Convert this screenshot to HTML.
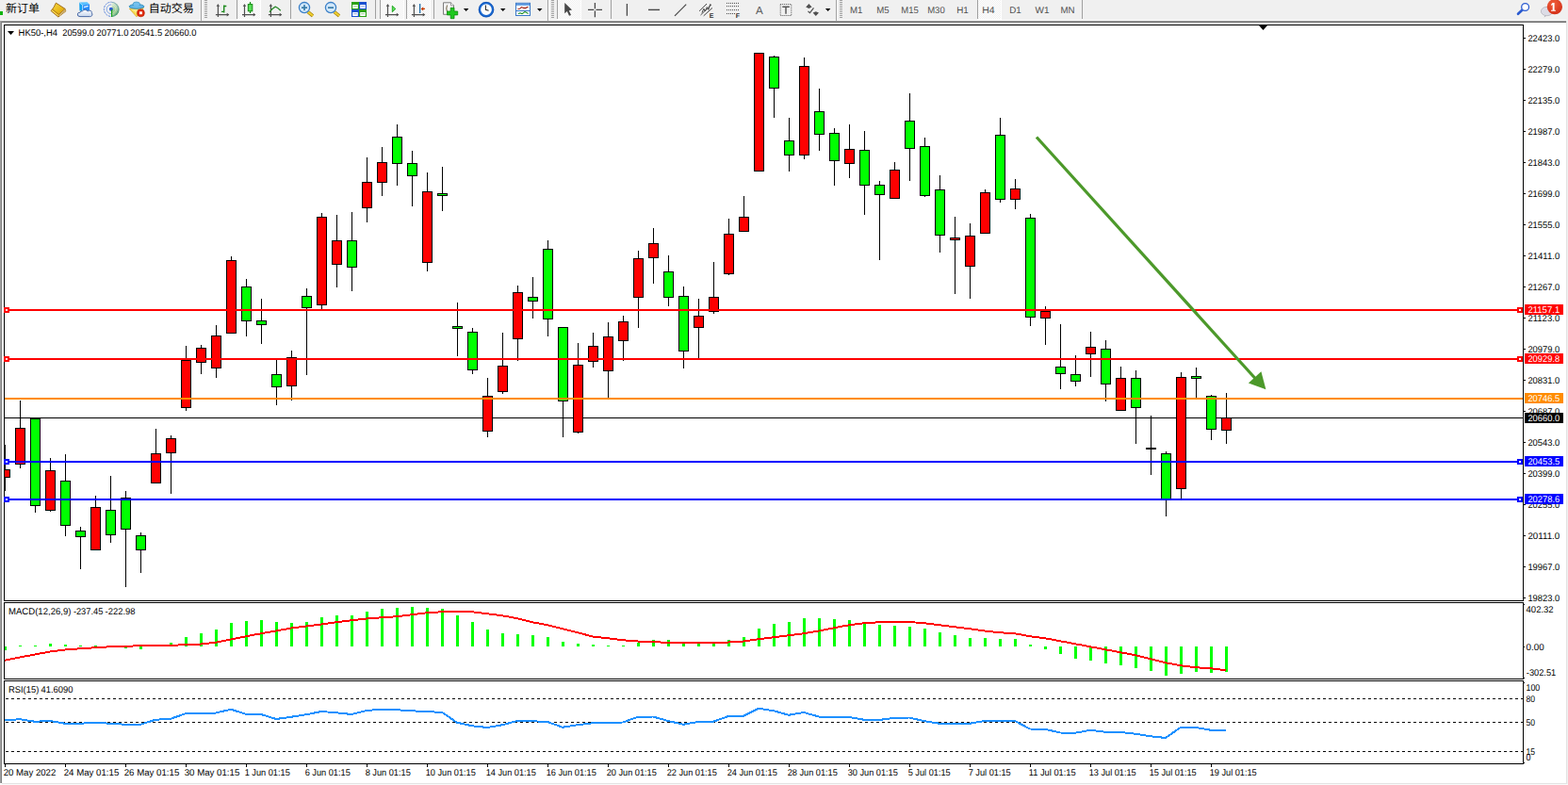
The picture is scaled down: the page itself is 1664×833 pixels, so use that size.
<!DOCTYPE html><html><head><meta charset="utf-8"><title>HK50-,H4</title>
<style>html,body{margin:0;padding:0;background:#fff;overflow:hidden}body{width:1664px;height:833px;font-family:"Liberation Sans",sans-serif}svg{display:block;position:absolute;left:0;top:0}text{font-family:"Liberation Sans",sans-serif;text-rendering:geometricPrecision}</style></head><body>
<svg width="1664" height="833" viewBox="0 0 1664 833">
<defs>
<pattern id="chk" width="2" height="2" patternUnits="userSpaceOnUse"><rect width="2" height="2" fill="#f0f0f0"/><rect width="1" height="1" fill="#fff"/><rect x="1" y="1" width="1" height="1" fill="#fff"/></pattern>

</defs>
<g shape-rendering="crispEdges">
<rect x="0" y="0" width="1664" height="833" fill="#fff"/>
<rect x="0" y="0" width="1664" height="22" fill="#f0f0f0"/>
<rect x="0" y="21" width="1663" height="1" fill="#f9f9f9"/>
<rect x="0" y="22" width="1663" height="1" fill="#a0a0a0"/>
<rect x="0" y="23" width="1663" height="1" fill="#696969"/>
<rect x="0" y="22" width="1" height="809" fill="#a0a0a0"/>
<rect x="1" y="23" width="1" height="808" fill="#808080"/>
<rect x="1662" y="22" width="1" height="811" fill="#e3e3e3"/>
<rect x="1663" y="0" width="1" height="833" fill="#f0f0f0"/>
<rect x="2" y="831" width="1661" height="1" fill="#e3e3e3"/>
<rect x="0" y="832" width="1664" height="1" fill="#fafafa"/>
</g>
<g id="toolbar">
<rect x="0" y="12" width="3" height="4" fill="#10b410"/>
<text x="6" y="13" font-size="12" fill="#000" style="font-family:'Liberation Sans','Noto Sans CJK SC',sans-serif">新订单</text>
<defs><linearGradient id="gold" x1="0" y1="0" x2="1" y2="1"><stop offset="0" stop-color="#f7dc4a"/><stop offset="0.55" stop-color="#e9b817"/><stop offset="1" stop-color="#b8791a"/></linearGradient><linearGradient id="blu" x1="0" y1="0" x2="1" y2="1"><stop offset="0" stop-color="#48b0ff"/><stop offset="1" stop-color="#0a5ad0"/></linearGradient><radialGradient id="badge" cx="0.4" cy="0.3" r="0.8"><stop offset="0" stop-color="#f0603c"/><stop offset="1" stop-color="#d02a14"/></radialGradient><linearGradient id="cloud" x1="0" y1="0" x2="0" y2="1"><stop offset="0" stop-color="#ffffff"/><stop offset="1" stop-color="#c4d4ec"/></linearGradient></defs>
<path d="M59.4,3.1 L69.1,9.4 L69.8,11.9 L61.9,18 L54.1,11.6 Q57.3,8.2 59.4,3.1 Z" fill="url(#gold)" stroke="#9a6412" stroke-width="0.9" stroke-linejoin="round"/>
<path d="M69.1,9.6 L62.6,15.4 L62.9,17.2 L69.6,11.8 Z" fill="#e8d8a0"/>
<path d="M69.1,9.4 L62.5,15.4 L56,10.2" fill="none" stroke="#a06a14" stroke-width="0.8"/>
<path d="M69.5,10.8 L62.8,16.5" fill="none" stroke="#9a6a20" stroke-width="0.5"/>
<path d="M55.3,11.3 L62,16.6" fill="none" stroke="#f8e070" stroke-width="0.9"/>
<path d="M84.2,2.6 L92.5,2.2 L95,4.5 L87.5,5.5 Z" fill="#58c0ff"/>
<path d="M84.2,2.6 L87.5,5.5 L87.6,12.3 L84.4,11.2 Z" fill="#10a0f0"/>
<path d="M87.5,5.5 L95,4.5 L95,11.5 L87.6,12.3 Z" fill="#2a8cf8"/>
<path d="M84.2,2.6 L87.5,5.5 L87.6,12" fill="none" stroke="#d8f0ff" stroke-width="0.6"/>
<path d="M89,7.6 L93.6,6.4" stroke="#eaf6ff" stroke-width="1.3" fill="none"/>
<path d="M85,17.6 Q82,17.6 82.3,15 Q82.6,12.9 85.1,13.2 Q85.6,11.4 87.6,11.7 Q88.6,10.1 90.6,10.4 Q92.6,10.7 93.2,12 Q94.6,10.6 96.2,11.4 Q97.8,12.3 97.3,13.6 Q98.5,15 97.6,16.6 Q96.8,17.6 95.5,17.6 Z" fill="url(#cloud)" stroke="#3c5c9c" stroke-width="0.9" stroke-linejoin="round"/>
<defs><linearGradient id="rgr" x1="0" y1="0" x2="0.6" y2="1"><stop offset="0" stop-color="#d8e8d4" stop-opacity="0.85"/><stop offset="0.55" stop-color="#a4d09c"/><stop offset="1" stop-color="#2c9c2c"/></linearGradient></defs>
<path d="M118.6,1.9 A8,8 0 0 1 118.6,17.9 Z" fill="url(#rgr)"/>
<g fill="none"><circle cx="118" cy="9.8" r="7.6" stroke="#4a78d8" stroke-width="1" stroke-dasharray="2.4 0.8" stroke-opacity="0.85" pathLength="48" stroke-dashoffset="0" clip-path="url(#lh)"/><circle cx="118" cy="9.8" r="4.9" stroke="#5a88e0" stroke-width="1" stroke-opacity="0.7" clip-path="url(#lh)"/><circle cx="118" cy="9.8" r="7.6" stroke="#6a98c0" stroke-width="0.9" stroke-opacity="0.8" clip-path="url(#rh)"/><circle cx="118" cy="9.8" r="4.9" stroke="#e8f4e8" stroke-width="0.9" stroke-opacity="0.7" clip-path="url(#rh)"/><circle cx="118" cy="9.8" r="6.3" stroke="#f0f8f0" stroke-width="0.8" stroke-opacity="0.6" clip-path="url(#rh)"/></g>
<clipPath id="lh"><rect x="108" y="0" width="10.2" height="21"/></clipPath><clipPath id="rh"><rect x="118.2" y="0" width="10" height="21"/></clipPath>
<circle cx="117.9" cy="9.7" r="2" fill="#2c5cd4"/><rect x="118" y="10" width="1.2" height="8" fill="#18a418"/>
<path d="M137.3,9.2 L152.3,8.4 L145,17.8 Z" fill="#f6dc50" stroke="#d8a018" stroke-width="0.7" stroke-linejoin="round"/>
<path d="M139.5,10 L150.5,9.2 L145,14 Z" fill="#fbf0a0" fill-opacity="0.7"/>
<ellipse cx="145" cy="6.9" rx="7.9" ry="2.4" fill="#5ab0e6" stroke="#2484b4" stroke-width="0.8"/><ellipse cx="144.8" cy="4.6" rx="3.8" ry="2.6" fill="#74c0ee" stroke="#2a8cbc" stroke-width="0.6"/><ellipse cx="145" cy="7.1" rx="5" ry="1.2" fill="#6cbcea"/>
<circle cx="149.4" cy="13.8" r="4" fill="#e02c0c" stroke="#b41c04" stroke-width="0.6"/><rect x="148" y="12.3" width="2.9" height="2.9" fill="#fff"/>
<text x="157.8" y="13" font-size="12" fill="#000" style="font-family:'Liberation Sans','Noto Sans CJK SC',sans-serif">自动交易</text>
<rect x="213" y="0" width="1" height="22" fill="#a0a0a0" shape-rendering="crispEdges"/><rect x="214" y="0" width="1" height="22" fill="#fff" shape-rendering="crispEdges"/>
<g shape-rendering="crispEdges" fill="#a0a0a0"><rect x="217" y="0" width="3" height="1"/><rect x="217" y="2" width="3" height="1"/><rect x="217" y="4" width="3" height="1"/><rect x="217" y="6" width="3" height="1"/><rect x="217" y="8" width="3" height="1"/><rect x="217" y="10" width="3" height="1"/><rect x="217" y="12" width="3" height="1"/><rect x="217" y="14" width="3" height="1"/><rect x="217" y="16" width="3" height="1"/><rect x="217" y="18" width="3" height="1"/></g>
<g stroke="#505050" stroke-width="1.2" fill="none"><path d="M231.4,4.8V18M228.9,15.6H242.4"/></g>
<path d="M229.6,6.8 L231.4,4.2 L233.20000000000002,6.8Z M240.70000000000002,13.8 L243.3,15.6 L240.70000000000002,17.4Z" fill="#505050"/>
<path d="M237.7,5.5V13.5M237.7,6.5H240.3M235,12.4H237.7" stroke="#1e8a1e" stroke-width="1.4" fill="none"/>
<rect x="251" y="0" width="1" height="20" fill="#a0a0a0" shape-rendering="crispEdges"/>
<rect x="253" y="0" width="23" height="20" fill="url(#chk)" shape-rendering="crispEdges"/><rect x="276" y="0" width="1" height="21" fill="#fff" shape-rendering="crispEdges"/><rect x="252" y="20" width="25" height="1" fill="#fff" shape-rendering="crispEdges"/>
<g stroke="#505050" stroke-width="1.2" fill="none"><path d="M259.5,4.8V18M257.0,15.6H270.5"/></g>
<path d="M257.7,6.8 L259.5,4.2 L261.3,6.8Z M268.8,13.8 L271.4,15.6 L268.8,17.4Z" fill="#505050"/>
<rect x="264.9" y="2" width="1.2" height="12" fill="#108a10"/><rect x="263.3" y="4.6" width="4.5" height="7.2" fill="#5ae05a" stroke="#108a10" stroke-width="1"/>
<g stroke="#505050" stroke-width="1.2" fill="none"><path d="M287.4,4.8V18M284.9,15.6H298.4"/></g>
<path d="M285.59999999999997,6.8 L287.4,4.2 L289.2,6.8Z M296.7,13.8 L299.29999999999995,15.6 L296.7,17.4Z" fill="#505050"/>
<path d="M286,12.8 Q289.5,8.5 292.2,7.2 Q294.5,8 297.8,11.2" stroke="#2a8a2a" stroke-width="1.3" fill="none"/>
<rect x="308" y="0" width="1" height="20" fill="#a0a0a0" shape-rendering="crispEdges"/>
<line x1="326.8" y1="12.6" x2="332" y2="16.8" stroke="#a88410" stroke-width="3.6" stroke-linecap="butt"/><line x1="326.8" y1="12.6" x2="332" y2="16.8" stroke="#f0d030" stroke-width="2" />
<circle cx="323" cy="8.1" r="5.6" fill="#d2e8fa" stroke="#3c80c8" stroke-width="1.3"/>
<rect x="320" y="7.3" width="6" height="1.7" fill="#3a7ca8"/>
<rect x="322.15" y="5.1" width="1.7" height="6" fill="#3a7ca8"/>
<line x1="354.8" y1="12.6" x2="360" y2="16.8" stroke="#a88410" stroke-width="3.6" stroke-linecap="butt"/><line x1="354.8" y1="12.6" x2="360" y2="16.8" stroke="#f0d030" stroke-width="2" />
<circle cx="351" cy="8.1" r="5.6" fill="#d2e8fa" stroke="#3c80c8" stroke-width="1.3"/>
<rect x="348" y="7.3" width="6" height="1.7" fill="#3a7ca8"/>
<rect x="373" y="2" width="8" height="8" fill="#2aa014"/><rect x="374.2" y="5" width="5.6" height="4" fill="#fff"/><rect x="375.2" y="6.2" width="3.6" height="1" fill="#2aa014" fill-opacity="0.5"/>
<rect x="381" y="2" width="8" height="8" fill="#1a50d0"/><rect x="382.2" y="5" width="5.6" height="4" fill="#fff"/><rect x="383.2" y="6.2" width="3.6" height="1" fill="#1a50d0" fill-opacity="0.5"/>
<rect x="373" y="10" width="8" height="8" fill="#1a50d0"/><rect x="374.2" y="13" width="5.6" height="4" fill="#fff"/><rect x="375.2" y="14.2" width="3.6" height="1" fill="#1a50d0" fill-opacity="0.5"/>
<rect x="381" y="10" width="8" height="8" fill="#2aa014"/><rect x="382.2" y="13" width="5.6" height="4" fill="#fff"/><rect x="383.2" y="14.2" width="3.6" height="1" fill="#2aa014" fill-opacity="0.5"/>
<rect x="398" y="0" width="1" height="20" fill="#a0a0a0" shape-rendering="crispEdges"/>
<rect x="403" y="0" width="1" height="20" fill="#a0a0a0" shape-rendering="crispEdges"/>
<rect x="404" y="0" width="24" height="20" fill="url(#chk)" shape-rendering="crispEdges"/><rect x="428" y="0" width="1" height="21" fill="#fff" shape-rendering="crispEdges"/><rect x="403" y="20" width="26" height="1" fill="#fff" shape-rendering="crispEdges"/>
<g stroke="#505050" stroke-width="1.2" fill="none"><path d="M411.5,4.8V18M409.0,15.6H422.5"/></g>
<path d="M409.7,6.8 L411.5,4.2 L413.3,6.8Z M420.8,13.8 L423.4,15.6 L420.8,17.4Z" fill="#505050"/>
<polygon points="416.3,6.2 419.8,9.4 416.3,12.7" fill="#5ae05a" stroke="#18a018" stroke-width="0.9"/>
<rect x="431" y="0" width="1" height="20" fill="#a0a0a0" shape-rendering="crispEdges"/>
<rect x="432" y="0" width="24" height="20" fill="url(#chk)" shape-rendering="crispEdges"/><rect x="456" y="0" width="1" height="21" fill="#fff" shape-rendering="crispEdges"/><rect x="431" y="20" width="26" height="1" fill="#fff" shape-rendering="crispEdges"/>
<g stroke="#505050" stroke-width="1.2" fill="none"><path d="M439.4,4.8V18M436.9,15.6H450.4"/></g>
<path d="M437.59999999999997,6.8 L439.4,4.2 L441.2,6.8Z M448.7,13.8 L451.29999999999995,15.6 L448.7,17.4Z" fill="#505050"/>
<rect x="445" y="4" width="1.3" height="10" fill="#1e6ea8"/>
<path d="M446.6,9.4 L449.2,7.2 V8.8 H451 V10 H449.2 V11.6 Z" fill="#c83c00"/>
<rect x="460" y="0" width="1" height="20" fill="#a0a0a0" shape-rendering="crispEdges"/>
<path d="M470.5,2.8 H478.5 L481.5,5.8 V15.3 H470.5 Z" fill="#f4f4f4" stroke="#707070" stroke-width="0.9"/><path d="M478.5,2.8 V5.8 H481.5" fill="#fff" stroke="#707070" stroke-width="0.7"/><path d="M474.5,5.5 Q473,9 474.5,12.5" stroke="#605030" stroke-width="0.9" fill="none"/>
<path d="M478.2,8.3 H482 V12 H485.7 V15.9 H482 V19.7 H478.2 V15.9 H474.5 V12 H478.2 Z" fill="#1ec81e" stroke="#0a8a0a" stroke-width="0.8"/>
<polygon points="491.9,9 497.4,9 494.65,12" fill="#000"/>
<circle cx="516" cy="10.2" r="7" fill="#fdfdfd" stroke="#1a68d0" stroke-width="2.3"/><path d="M515.4,5.5 V10.3 L518.6,11.2" stroke="#303030" stroke-width="1.1" fill="none"/><circle cx="516" cy="10.2" r="7.9" fill="none" stroke="#0a48a8" stroke-width="0.6"/>
<polygon points="531,9 536.5,9 533.75,12" fill="#000"/>
<rect x="547.5" y="3.3" width="15" height="13.2" fill="#fff" stroke="#3a78c8" stroke-width="1"/><rect x="548" y="3.8" width="14" height="2" fill="#5a98e0"/><rect x="548" y="11" width="14" height="1" fill="#3a78c8"/>
<path d="M549.5,9.5 L551.5,9.3 L553.5,7.6 L555.5,8.4 L557.5,8.6 L560.5,7.3" stroke="#a01808" stroke-width="1.1" fill="none"/><path d="M550,14.6 L552,13.8 L554,14.6 L557,12.6 L559,13.4 L560.5,14.6" stroke="#108a18" stroke-width="1.1" fill="none"/>
<polygon points="570,9 575.5,9 572.75,12" fill="#000"/>
<rect x="581" y="0" width="1" height="22" fill="#a0a0a0" shape-rendering="crispEdges"/><rect x="582" y="0" width="1" height="22" fill="#fff" shape-rendering="crispEdges"/>
<g shape-rendering="crispEdges" fill="#a0a0a0"><rect x="585" y="0" width="3" height="1"/><rect x="585" y="2" width="3" height="1"/><rect x="585" y="4" width="3" height="1"/><rect x="585" y="6" width="3" height="1"/><rect x="585" y="8" width="3" height="1"/><rect x="585" y="10" width="3" height="1"/><rect x="585" y="12" width="3" height="1"/><rect x="585" y="14" width="3" height="1"/><rect x="585" y="16" width="3" height="1"/><rect x="585" y="18" width="3" height="1"/></g>
<rect x="591" y="0" width="1" height="20" fill="#a0a0a0" shape-rendering="crispEdges"/>
<rect x="592" y="0" width="24" height="20" fill="url(#chk)" shape-rendering="crispEdges"/><rect x="616" y="0" width="1" height="21" fill="#fff" shape-rendering="crispEdges"/><rect x="591" y="20" width="26" height="1" fill="#fff" shape-rendering="crispEdges"/>
<path d="M599.2,3 L599.2,14.2 L601.8,12 L604,16.8 L606,15.9 L603.8,11.2 L607,10.6 Z" fill="#484848"/>
<path d="M624,10.4 H630.3 M632.5,10.4 H639 M631.4,3 V9.3 M631.4,11.5 V18.2" stroke="#484848" stroke-width="1.3" fill="none"/>
<rect x="648" y="0" width="1" height="20" fill="#a0a0a0" shape-rendering="crispEdges"/>
<path d="M665.4,4 V16.8" stroke="#484848" stroke-width="1.3"/>
<path d="M688,10.4 H700" stroke="#484848" stroke-width="1.4"/>
<path d="M716,16.8 L728.2,4.6" stroke="#484848" stroke-width="1.2"/>
<g stroke="#484848" stroke-width="1" fill="none"><path d="M742,11.8 L750,4"/><path d="M743.5,16 L755,4.8"/><path d="M746.7,16.8 L756,8.4"/><path d="M745,13.5 L746.8,9.2 L748.3,12 L750.3,7.6 L751.8,10.4 L753.8,4.2"/></g>
<text x="752.8" y="18.8" font-size="7" font-weight="bold" fill="#303030" font-family="Liberation Sans">E</text>
<g stroke="#484848" stroke-width="1" stroke-dasharray="1 1" fill="none"><path d="M771,3.4 H784.5"/><path d="M771,6.6 H784.5"/><path d="M771,10.6 H784.5"/><path d="M771,14.5 H780"/></g>
<text x="780.8" y="18.8" font-size="7" font-weight="bold" fill="#303030" font-family="Liberation Sans">F</text>
<text x="801.9" y="14.8" font-size="11.6" fill="#585858" font-family="Liberation Sans">A</text>
<rect x="828.2" y="4.5" width="11.6" height="12" fill="none" stroke="#585858" stroke-width="1" stroke-dasharray="1 1"/><path d="M830.3,7.3 H837.8 M834,7.3 V14.8" stroke="#585858" stroke-width="1.5" fill="none"/>
<path d="M858.4,4 L861.6,7.4 L858.4,9 L855.2,7.4 Z M865.8,17 L862.6,13.6 L865.8,12.2 L869,13.6 Z" fill="#505050"/><path d="M857.5,12 L859.5,13.6 L863.5,8.4" stroke="#505050" stroke-width="1.2" fill="none"/>
<polygon points="875.9,9 881.4,9 878.65,12" fill="#000"/>
<rect x="887" y="0" width="1" height="22" fill="#a0a0a0" shape-rendering="crispEdges"/><rect x="888" y="0" width="1" height="22" fill="#fff" shape-rendering="crispEdges"/>
<g shape-rendering="crispEdges" fill="#a0a0a0"><rect x="891" y="0" width="3" height="1"/><rect x="891" y="2" width="3" height="1"/><rect x="891" y="4" width="3" height="1"/><rect x="891" y="6" width="3" height="1"/><rect x="891" y="8" width="3" height="1"/><rect x="891" y="10" width="3" height="1"/><rect x="891" y="12" width="3" height="1"/><rect x="891" y="14" width="3" height="1"/><rect x="891" y="16" width="3" height="1"/><rect x="891" y="18" width="3" height="1"/></g>
<rect x="1037" y="0" width="1" height="20" fill="#a0a0a0" shape-rendering="crispEdges"/>
<rect x="1038" y="0" width="24" height="20" fill="url(#chk)" shape-rendering="crispEdges"/><rect x="1062" y="0" width="1" height="21" fill="#fff" shape-rendering="crispEdges"/><rect x="1037" y="20" width="26" height="1" fill="#fff" shape-rendering="crispEdges"/>
<g font-size="9.8" fill="#505050" font-family="Liberation Sans">
<text x="902.1" y="14" textLength="13.4" lengthAdjust="spacingAndGlyphs">M1</text>
<text x="930.2" y="14" textLength="13.4" lengthAdjust="spacingAndGlyphs">M5</text>
<text x="956.3000000000001" y="14" textLength="18.5" lengthAdjust="spacingAndGlyphs">M15</text>
<text x="984.2" y="14" textLength="18.5" lengthAdjust="spacingAndGlyphs">M30</text>
<text x="1015.2" y="14" textLength="12.600000000000001" lengthAdjust="spacingAndGlyphs">H1</text>
<text x="1042.3" y="14" textLength="13.4" lengthAdjust="spacingAndGlyphs">H4</text>
<text x="1071.1999999999998" y="14" textLength="12.600000000000001" lengthAdjust="spacingAndGlyphs">D1</text>
<text x="1098.6" y="14" textLength="15.0" lengthAdjust="spacingAndGlyphs">W1</text>
<text x="1125.3999999999999" y="14" textLength="15.100000000000001" lengthAdjust="spacingAndGlyphs">MN</text>
</g>
<rect x="1148" y="0" width="1" height="20" fill="#a0a0a0" shape-rendering="crispEdges"/>
<line x1="1615.8" y1="10.3" x2="1611" y2="14.8" stroke="#2a5ad0" stroke-width="2.6" stroke-linecap="round"/><circle cx="1618.6" cy="7.5" r="3.9" fill="#fff" stroke="#2a5ad0" stroke-width="1.3"/>
<path d="M1639.5,16.2 L1638.6,18.4 L1641.5,16.6 Z" fill="#b0b0b8"/><ellipse cx="1641.6" cy="12" rx="6.2" ry="4.7" fill="#dcdce6" stroke="#b4b4bc" stroke-width="0.8"/>
<circle cx="1649.9" cy="7.2" r="8.1" fill="url(#badge)"/><path d="M1647.7,2.9 H1649.6 V10.8 H1650.9 V11.8 H1646 V10.8 H1647.7 V5 L1646.2,5.9 V4.5 Z" fill="#fff"/>
</g>
<g shape-rendering="crispEdges">
<rect x="4" y="26" width="1613" height="1" fill="#000"/>
<rect x="4" y="637" width="1613" height="1" fill="#000"/>
<rect x="4" y="26" width="1" height="612" fill="#000"/>
<rect x="1616" y="26" width="1" height="612" fill="#000"/>
<rect x="4" y="639" width="1613" height="1" fill="#000"/>
<rect x="4" y="720" width="1613" height="1" fill="#000"/>
<rect x="4" y="639" width="1" height="82" fill="#000"/>
<rect x="1616" y="639" width="1" height="82" fill="#000"/>
<rect x="4" y="722" width="1613" height="1" fill="#000"/>
<rect x="4" y="810" width="1613" height="1" fill="#000"/>
<rect x="4" y="722" width="1" height="89" fill="#000"/>
<rect x="1616" y="722" width="1" height="89" fill="#000"/>
</g>
<clipPath id="cm"><rect x="5" y="27" width="1611" height="610"/></clipPath>
<g shape-rendering="crispEdges" clip-path="url(#cm)">
<rect x="5" y="443" width="1611" height="1" fill="#000"/>
<rect x="5" y="472" width="1" height="49" fill="#000"/>
<rect x="0" y="498" width="11" height="9" fill="#000"/>
<rect x="1" y="499" width="9" height="7" fill="#ff0000"/>
<rect x="21" y="425" width="1" height="72" fill="#000"/>
<rect x="16" y="454" width="11" height="39" fill="#000"/>
<rect x="17" y="455" width="9" height="37" fill="#ff0000"/>
<rect x="37" y="444" width="1" height="100" fill="#000"/>
<rect x="32" y="444" width="11" height="93" fill="#000"/>
<rect x="33" y="445" width="9" height="91" fill="#00ff00"/>
<rect x="53" y="486" width="1" height="57" fill="#000"/>
<rect x="48" y="499" width="11" height="43" fill="#000"/>
<rect x="49" y="500" width="9" height="41" fill="#ff0000"/>
<rect x="69" y="482" width="1" height="87" fill="#000"/>
<rect x="64" y="510" width="11" height="48" fill="#000"/>
<rect x="65" y="511" width="9" height="46" fill="#00ff00"/>
<rect x="85" y="559" width="1" height="45" fill="#000"/>
<rect x="80" y="563" width="11" height="7" fill="#000"/>
<rect x="81" y="564" width="9" height="5" fill="#00ff00"/>
<rect x="101" y="526" width="1" height="58" fill="#000"/>
<rect x="96" y="538" width="11" height="46" fill="#000"/>
<rect x="97" y="539" width="9" height="44" fill="#ff0000"/>
<rect x="117" y="505" width="1" height="71" fill="#000"/>
<rect x="112" y="541" width="11" height="27" fill="#000"/>
<rect x="113" y="542" width="9" height="25" fill="#00ff00"/>
<rect x="133" y="521" width="1" height="102" fill="#000"/>
<rect x="128" y="528" width="11" height="34" fill="#000"/>
<rect x="129" y="529" width="9" height="32" fill="#00ff00"/>
<rect x="149" y="565" width="1" height="43" fill="#000"/>
<rect x="144" y="568" width="11" height="16" fill="#000"/>
<rect x="145" y="569" width="9" height="14" fill="#00ff00"/>
<rect x="165" y="455" width="1" height="58" fill="#000"/>
<rect x="160" y="481" width="11" height="32" fill="#000"/>
<rect x="161" y="482" width="9" height="30" fill="#ff0000"/>
<rect x="181" y="462" width="1" height="62" fill="#000"/>
<rect x="176" y="465" width="11" height="16" fill="#000"/>
<rect x="177" y="466" width="9" height="14" fill="#ff0000"/>
<rect x="197" y="367" width="1" height="69" fill="#000"/>
<rect x="192" y="382" width="11" height="51" fill="#000"/>
<rect x="193" y="383" width="9" height="49" fill="#ff0000"/>
<rect x="213" y="366" width="1" height="31" fill="#000"/>
<rect x="208" y="369" width="11" height="16" fill="#000"/>
<rect x="209" y="370" width="9" height="14" fill="#ff0000"/>
<rect x="229" y="345" width="1" height="56" fill="#000"/>
<rect x="224" y="356" width="11" height="35" fill="#000"/>
<rect x="225" y="357" width="9" height="33" fill="#ff0000"/>
<rect x="245" y="272" width="1" height="82" fill="#000"/>
<rect x="240" y="276" width="11" height="78" fill="#000"/>
<rect x="241" y="277" width="9" height="76" fill="#ff0000"/>
<rect x="261" y="296" width="1" height="61" fill="#000"/>
<rect x="256" y="304" width="11" height="37" fill="#000"/>
<rect x="257" y="305" width="9" height="35" fill="#00ff00"/>
<rect x="277" y="317" width="1" height="48" fill="#000"/>
<rect x="272" y="340" width="11" height="5" fill="#000"/>
<rect x="273" y="341" width="9" height="3" fill="#00ff00"/>
<rect x="293" y="382" width="1" height="48" fill="#000"/>
<rect x="288" y="397" width="11" height="14" fill="#000"/>
<rect x="289" y="398" width="9" height="12" fill="#00ff00"/>
<rect x="309" y="372" width="1" height="53" fill="#000"/>
<rect x="304" y="379" width="11" height="31" fill="#000"/>
<rect x="305" y="380" width="9" height="29" fill="#ff0000"/>
<rect x="325" y="306" width="1" height="92" fill="#000"/>
<rect x="320" y="314" width="11" height="13" fill="#000"/>
<rect x="321" y="315" width="9" height="11" fill="#00ff00"/>
<rect x="341" y="226" width="1" height="102" fill="#000"/>
<rect x="336" y="230" width="11" height="94" fill="#000"/>
<rect x="337" y="231" width="9" height="92" fill="#ff0000"/>
<rect x="357" y="228" width="1" height="77" fill="#000"/>
<rect x="352" y="255" width="11" height="26" fill="#000"/>
<rect x="353" y="256" width="9" height="24" fill="#ff0000"/>
<rect x="373" y="225" width="1" height="84" fill="#000"/>
<rect x="368" y="255" width="11" height="29" fill="#000"/>
<rect x="369" y="256" width="9" height="27" fill="#00ff00"/>
<rect x="389" y="167" width="1" height="69" fill="#000"/>
<rect x="384" y="193" width="11" height="28" fill="#000"/>
<rect x="385" y="194" width="9" height="26" fill="#ff0000"/>
<rect x="405" y="156" width="1" height="52" fill="#000"/>
<rect x="400" y="172" width="11" height="22" fill="#000"/>
<rect x="401" y="173" width="9" height="20" fill="#ff0000"/>
<rect x="421" y="132" width="1" height="65" fill="#000"/>
<rect x="416" y="145" width="11" height="29" fill="#000"/>
<rect x="417" y="146" width="9" height="27" fill="#00ff00"/>
<rect x="437" y="160" width="1" height="59" fill="#000"/>
<rect x="432" y="173" width="11" height="14" fill="#000"/>
<rect x="433" y="174" width="9" height="12" fill="#00ff00"/>
<rect x="453" y="183" width="1" height="105" fill="#000"/>
<rect x="448" y="203" width="11" height="76" fill="#000"/>
<rect x="449" y="204" width="9" height="74" fill="#ff0000"/>
<rect x="469" y="177" width="1" height="47" fill="#000"/>
<rect x="464" y="205" width="11" height="3" fill="#000"/>
<rect x="465" y="206" width="9" height="1" fill="#00ff00"/>
<rect x="485" y="321" width="1" height="57" fill="#000"/>
<rect x="480" y="346" width="11" height="3" fill="#000"/>
<rect x="481" y="347" width="9" height="1" fill="#00ff00"/>
<rect x="501" y="348" width="1" height="49" fill="#000"/>
<rect x="496" y="352" width="11" height="41" fill="#000"/>
<rect x="497" y="353" width="9" height="39" fill="#00ff00"/>
<rect x="517" y="401" width="1" height="63" fill="#000"/>
<rect x="512" y="420" width="11" height="38" fill="#000"/>
<rect x="513" y="421" width="9" height="36" fill="#ff0000"/>
<rect x="533" y="353" width="1" height="65" fill="#000"/>
<rect x="528" y="388" width="11" height="28" fill="#000"/>
<rect x="529" y="389" width="9" height="26" fill="#ff0000"/>
<rect x="549" y="303" width="1" height="80" fill="#000"/>
<rect x="544" y="310" width="11" height="50" fill="#000"/>
<rect x="545" y="311" width="9" height="48" fill="#ff0000"/>
<rect x="565" y="294" width="1" height="44" fill="#000"/>
<rect x="560" y="315" width="11" height="5" fill="#000"/>
<rect x="561" y="316" width="9" height="3" fill="#00ff00"/>
<rect x="581" y="255" width="1" height="102" fill="#000"/>
<rect x="576" y="264" width="11" height="75" fill="#000"/>
<rect x="577" y="265" width="9" height="73" fill="#00ff00"/>
<rect x="597" y="347" width="1" height="117" fill="#000"/>
<rect x="592" y="347" width="11" height="79" fill="#000"/>
<rect x="593" y="348" width="9" height="77" fill="#00ff00"/>
<rect x="613" y="364" width="1" height="96" fill="#000"/>
<rect x="608" y="387" width="11" height="72" fill="#000"/>
<rect x="609" y="388" width="9" height="70" fill="#ff0000"/>
<rect x="629" y="353" width="1" height="37" fill="#000"/>
<rect x="624" y="367" width="11" height="17" fill="#000"/>
<rect x="625" y="368" width="9" height="15" fill="#ff0000"/>
<rect x="645" y="342" width="1" height="80" fill="#000"/>
<rect x="640" y="357" width="11" height="37" fill="#000"/>
<rect x="641" y="358" width="9" height="35" fill="#ff0000"/>
<rect x="661" y="335" width="1" height="48" fill="#000"/>
<rect x="656" y="341" width="11" height="21" fill="#000"/>
<rect x="657" y="342" width="9" height="19" fill="#ff0000"/>
<rect x="677" y="266" width="1" height="82" fill="#000"/>
<rect x="672" y="274" width="11" height="42" fill="#000"/>
<rect x="673" y="275" width="9" height="40" fill="#ff0000"/>
<rect x="693" y="242" width="1" height="59" fill="#000"/>
<rect x="688" y="258" width="11" height="16" fill="#000"/>
<rect x="689" y="259" width="9" height="14" fill="#ff0000"/>
<rect x="709" y="271" width="1" height="54" fill="#000"/>
<rect x="704" y="288" width="11" height="28" fill="#000"/>
<rect x="705" y="289" width="9" height="26" fill="#00ff00"/>
<rect x="725" y="304" width="1" height="87" fill="#000"/>
<rect x="720" y="314" width="11" height="59" fill="#000"/>
<rect x="721" y="315" width="9" height="57" fill="#00ff00"/>
<rect x="741" y="317" width="1" height="63" fill="#000"/>
<rect x="736" y="335" width="11" height="13" fill="#000"/>
<rect x="737" y="336" width="9" height="11" fill="#ff0000"/>
<rect x="757" y="278" width="1" height="55" fill="#000"/>
<rect x="752" y="315" width="11" height="16" fill="#000"/>
<rect x="753" y="316" width="9" height="14" fill="#ff0000"/>
<rect x="773" y="232" width="1" height="60" fill="#000"/>
<rect x="768" y="248" width="11" height="43" fill="#000"/>
<rect x="769" y="249" width="9" height="41" fill="#ff0000"/>
<rect x="789" y="208" width="1" height="38" fill="#000"/>
<rect x="784" y="230" width="11" height="16" fill="#000"/>
<rect x="785" y="231" width="9" height="14" fill="#ff0000"/>
<rect x="805" y="56" width="1" height="126" fill="#000"/>
<rect x="800" y="56" width="11" height="126" fill="#000"/>
<rect x="801" y="57" width="9" height="124" fill="#ff0000"/>
<rect x="821" y="59" width="1" height="66" fill="#000"/>
<rect x="816" y="60" width="11" height="34" fill="#000"/>
<rect x="817" y="61" width="9" height="32" fill="#00ff00"/>
<rect x="837" y="125" width="1" height="57" fill="#000"/>
<rect x="832" y="149" width="11" height="16" fill="#000"/>
<rect x="833" y="150" width="9" height="14" fill="#00ff00"/>
<rect x="853" y="61" width="1" height="108" fill="#000"/>
<rect x="848" y="70" width="11" height="95" fill="#000"/>
<rect x="849" y="71" width="9" height="93" fill="#ff0000"/>
<rect x="869" y="94" width="1" height="66" fill="#000"/>
<rect x="864" y="118" width="11" height="25" fill="#000"/>
<rect x="865" y="119" width="9" height="23" fill="#00ff00"/>
<rect x="885" y="136" width="1" height="61" fill="#000"/>
<rect x="880" y="141" width="11" height="30" fill="#000"/>
<rect x="881" y="142" width="9" height="28" fill="#00ff00"/>
<rect x="901" y="132" width="1" height="57" fill="#000"/>
<rect x="896" y="158" width="11" height="16" fill="#000"/>
<rect x="897" y="159" width="9" height="14" fill="#ff0000"/>
<rect x="917" y="139" width="1" height="89" fill="#000"/>
<rect x="912" y="159" width="11" height="38" fill="#000"/>
<rect x="913" y="160" width="9" height="36" fill="#00ff00"/>
<rect x="933" y="192" width="1" height="84" fill="#000"/>
<rect x="928" y="196" width="11" height="11" fill="#000"/>
<rect x="929" y="197" width="9" height="9" fill="#00ff00"/>
<rect x="949" y="172" width="1" height="39" fill="#000"/>
<rect x="944" y="180" width="11" height="31" fill="#000"/>
<rect x="945" y="181" width="9" height="29" fill="#ff0000"/>
<rect x="965" y="99" width="1" height="93" fill="#000"/>
<rect x="960" y="128" width="11" height="30" fill="#000"/>
<rect x="961" y="129" width="9" height="28" fill="#00ff00"/>
<rect x="981" y="146" width="1" height="63" fill="#000"/>
<rect x="976" y="155" width="11" height="53" fill="#000"/>
<rect x="977" y="156" width="9" height="51" fill="#00ff00"/>
<rect x="997" y="186" width="1" height="82" fill="#000"/>
<rect x="992" y="201" width="11" height="49" fill="#000"/>
<rect x="993" y="202" width="9" height="47" fill="#00ff00"/>
<rect x="1013" y="230" width="1" height="82" fill="#000"/>
<rect x="1008" y="252" width="11" height="3" fill="#000"/>
<rect x="1009" y="253" width="9" height="1" fill="#ff0000"/>
<rect x="1029" y="237" width="1" height="80" fill="#000"/>
<rect x="1024" y="250" width="11" height="33" fill="#000"/>
<rect x="1025" y="251" width="9" height="31" fill="#ff0000"/>
<rect x="1045" y="201" width="1" height="47" fill="#000"/>
<rect x="1040" y="204" width="11" height="44" fill="#000"/>
<rect x="1041" y="205" width="9" height="42" fill="#ff0000"/>
<rect x="1061" y="125" width="1" height="90" fill="#000"/>
<rect x="1056" y="143" width="11" height="69" fill="#000"/>
<rect x="1057" y="144" width="9" height="67" fill="#00ff00"/>
<rect x="1077" y="190" width="1" height="32" fill="#000"/>
<rect x="1072" y="200" width="11" height="12" fill="#000"/>
<rect x="1073" y="201" width="9" height="10" fill="#ff0000"/>
<rect x="1093" y="227" width="1" height="119" fill="#000"/>
<rect x="1088" y="231" width="11" height="106" fill="#000"/>
<rect x="1089" y="232" width="9" height="104" fill="#00ff00"/>
<rect x="1109" y="325" width="1" height="41" fill="#000"/>
<rect x="1104" y="330" width="11" height="8" fill="#000"/>
<rect x="1105" y="331" width="9" height="6" fill="#ff0000"/>
<rect x="1125" y="344" width="1" height="69" fill="#000"/>
<rect x="1120" y="389" width="11" height="8" fill="#000"/>
<rect x="1121" y="390" width="9" height="6" fill="#00ff00"/>
<rect x="1141" y="377" width="1" height="33" fill="#000"/>
<rect x="1136" y="397" width="11" height="8" fill="#000"/>
<rect x="1137" y="398" width="9" height="6" fill="#00ff00"/>
<rect x="1157" y="352" width="1" height="48" fill="#000"/>
<rect x="1152" y="368" width="11" height="8" fill="#000"/>
<rect x="1153" y="369" width="9" height="6" fill="#ff0000"/>
<rect x="1173" y="361" width="1" height="65" fill="#000"/>
<rect x="1168" y="370" width="11" height="38" fill="#000"/>
<rect x="1169" y="371" width="9" height="36" fill="#00ff00"/>
<rect x="1189" y="389" width="1" height="47" fill="#000"/>
<rect x="1184" y="401" width="11" height="35" fill="#000"/>
<rect x="1185" y="402" width="9" height="33" fill="#ff0000"/>
<rect x="1205" y="393" width="1" height="78" fill="#000"/>
<rect x="1200" y="401" width="11" height="32" fill="#000"/>
<rect x="1201" y="402" width="9" height="30" fill="#00ff00"/>
<rect x="1221" y="441" width="1" height="63" fill="#000"/>
<rect x="1216" y="475" width="11" height="2" fill="#000"/>
<rect x="1237" y="479" width="1" height="69" fill="#000"/>
<rect x="1232" y="481" width="11" height="49" fill="#000"/>
<rect x="1233" y="482" width="9" height="47" fill="#00ff00"/>
<rect x="1253" y="395" width="1" height="134" fill="#000"/>
<rect x="1248" y="400" width="11" height="119" fill="#000"/>
<rect x="1249" y="401" width="9" height="117" fill="#ff0000"/>
<rect x="1269" y="390" width="1" height="32" fill="#000"/>
<rect x="1264" y="399" width="11" height="3" fill="#000"/>
<rect x="1265" y="400" width="9" height="1" fill="#00ff00"/>
<rect x="1285" y="419" width="1" height="48" fill="#000"/>
<rect x="1280" y="420" width="11" height="36" fill="#000"/>
<rect x="1281" y="421" width="9" height="34" fill="#00ff00"/>
<rect x="1301" y="417" width="1" height="54" fill="#000"/>
<rect x="1296" y="443" width="11" height="14" fill="#000"/>
<rect x="1297" y="444" width="9" height="12" fill="#ff0000"/>
<rect x="5" y="328" width="1611" height="2" fill="#ff0000"/>
<rect x="5" y="380" width="1611" height="2" fill="#ff0000"/>
<rect x="5" y="422" width="1611" height="2" fill="#ff8c00"/>
<rect x="5" y="489" width="1611" height="2" fill="#0000ff"/>
<rect x="5" y="529" width="1611" height="2" fill="#0000ff"/>
</g>
<g shape-rendering="crispEdges">
<rect x="4" y="326" width="6" height="6" fill="#ff0000"/><rect x="6" y="328" width="2" height="2" fill="#fff"/>
<rect x="1610" y="326" width="6" height="6" fill="#ff0000"/><rect x="1612" y="328" width="2" height="2" fill="#fff"/>
<rect x="4" y="378" width="6" height="6" fill="#ff0000"/><rect x="6" y="380" width="2" height="2" fill="#fff"/>
<rect x="1610" y="378" width="6" height="6" fill="#ff0000"/><rect x="1612" y="380" width="2" height="2" fill="#fff"/>
<rect x="4" y="487" width="6" height="6" fill="#0000ff"/><rect x="6" y="489" width="2" height="2" fill="#fff"/>
<rect x="1610" y="487" width="6" height="6" fill="#0000ff"/><rect x="1612" y="489" width="2" height="2" fill="#fff"/>
<rect x="4" y="527" width="6" height="6" fill="#0000ff"/><rect x="6" y="529" width="2" height="2" fill="#fff"/>
<rect x="1610" y="527" width="6" height="6" fill="#0000ff"/><rect x="1612" y="529" width="2" height="2" fill="#fff"/>
</g>
<g><line x1="1100" y1="145.5" x2="1332.5" y2="402" stroke="#4c992a" stroke-width="3.2"/><polygon points="1338.4,394.3 1343.4,413.2 1324.9,406.5" fill="#4c992a"/></g>
<g shape-rendering="crispEdges">
<rect x="1617" y="40" width="2" height="1" fill="#000"/>
<rect x="1617" y="73" width="2" height="1" fill="#000"/>
<rect x="1617" y="106" width="2" height="1" fill="#000"/>
<rect x="1617" y="139" width="2" height="1" fill="#000"/>
<rect x="1617" y="172" width="2" height="1" fill="#000"/>
<rect x="1617" y="205" width="2" height="1" fill="#000"/>
<rect x="1617" y="238" width="2" height="1" fill="#000"/>
<rect x="1617" y="271" width="2" height="1" fill="#000"/>
<rect x="1617" y="304" width="2" height="1" fill="#000"/>
<rect x="1617" y="337" width="2" height="1" fill="#000"/>
<rect x="1617" y="370" width="2" height="1" fill="#000"/>
<rect x="1617" y="403" width="2" height="1" fill="#000"/>
<rect x="1617" y="436" width="2" height="1" fill="#000"/>
<rect x="1617" y="469" width="2" height="1" fill="#000"/>
<rect x="1617" y="502" width="2" height="1" fill="#000"/>
<rect x="1617" y="535" width="2" height="1" fill="#000"/>
<rect x="1617" y="568" width="2" height="1" fill="#000"/>
<rect x="1617" y="601" width="2" height="1" fill="#000"/>
<rect x="1617" y="634" width="2" height="1" fill="#000"/>
<rect x="1617" y="809" width="1" height="1" fill="#000"/>
<rect x="1617" y="641" width="1" height="1" fill="#000"/>
<rect x="1617" y="686" width="1" height="1" fill="#000"/>
<rect x="1617" y="719" width="1" height="1" fill="#000"/>
<rect x="1617" y="724" width="1" height="1" fill="#000"/>
</g>
<g font-size="9.8" fill="#000">
<text x="1621.4" y="44" textLength="33.8" lengthAdjust="spacingAndGlyphs">22423.0</text>
<text x="1621.4" y="77" textLength="33.8" lengthAdjust="spacingAndGlyphs">22279.0</text>
<text x="1621.4" y="110" textLength="33.8" lengthAdjust="spacingAndGlyphs">22135.0</text>
<text x="1621.4" y="143" textLength="33.8" lengthAdjust="spacingAndGlyphs">21987.0</text>
<text x="1621.4" y="176" textLength="33.8" lengthAdjust="spacingAndGlyphs">21843.0</text>
<text x="1621.4" y="209" textLength="33.8" lengthAdjust="spacingAndGlyphs">21699.0</text>
<text x="1621.4" y="242" textLength="33.8" lengthAdjust="spacingAndGlyphs">21555.0</text>
<text x="1621.4" y="275" textLength="33.8" lengthAdjust="spacingAndGlyphs">21411.0</text>
<text x="1621.4" y="308" textLength="33.8" lengthAdjust="spacingAndGlyphs">21267.0</text>
<text x="1621.4" y="341" textLength="33.8" lengthAdjust="spacingAndGlyphs">21123.0</text>
<text x="1621.4" y="374" textLength="33.8" lengthAdjust="spacingAndGlyphs">20979.0</text>
<text x="1621.4" y="407" textLength="33.8" lengthAdjust="spacingAndGlyphs">20831.0</text>
<text x="1621.4" y="440" textLength="33.8" lengthAdjust="spacingAndGlyphs">20687.0</text>
<text x="1621.4" y="473" textLength="33.8" lengthAdjust="spacingAndGlyphs">20543.0</text>
<text x="1621.4" y="506" textLength="33.8" lengthAdjust="spacingAndGlyphs">20399.0</text>
<text x="1621.4" y="539" textLength="33.8" lengthAdjust="spacingAndGlyphs">20255.0</text>
<text x="1621.4" y="572" textLength="33.8" lengthAdjust="spacingAndGlyphs">20111.0</text>
<text x="1621.4" y="605" textLength="33.8" lengthAdjust="spacingAndGlyphs">19967.0</text>
<text x="1621.4" y="638" textLength="33.8" lengthAdjust="spacingAndGlyphs">19823.0</text>
</g>
<g shape-rendering="crispEdges">
<rect x="1618" y="323" width="41" height="11" fill="#ff0000"/>
<rect x="1618" y="375" width="41" height="11" fill="#ff0000"/>
<rect x="1618" y="417" width="41" height="11" fill="#ff8c00"/>
<rect x="1618" y="438" width="41" height="11" fill="#000"/>
<rect x="1618" y="484" width="41" height="11" fill="#0000ff"/>
<rect x="1618" y="524" width="41" height="11" fill="#0000ff"/>
</g>
<g font-size="9.8" fill="#fff">
<text x="1621.4" y="332" textLength="33.8" lengthAdjust="spacingAndGlyphs">21157.1</text>
<text x="1621.4" y="384" textLength="33.8" lengthAdjust="spacingAndGlyphs">20929.8</text>
<text x="1621.4" y="426" textLength="33.8" lengthAdjust="spacingAndGlyphs">20746.5</text>
<text x="1621.4" y="447" textLength="33.8" lengthAdjust="spacingAndGlyphs">20660.0</text>
<text x="1621.4" y="493" textLength="33.8" lengthAdjust="spacingAndGlyphs">20453.5</text>
<text x="1621.4" y="533" textLength="33.8" lengthAdjust="spacingAndGlyphs">20278.6</text>
</g>
<polygon points="8,33 15,33 11.5,37" fill="#000"/>
<g font-size="9.8" fill="#000">
<text x="19.6" y="38" textLength="41.4" lengthAdjust="spacingAndGlyphs">HK50-,H4</text>
<text x="66.2" y="38" textLength="33.8" lengthAdjust="spacingAndGlyphs">20599.0</text>
<text x="102.60000000000001" y="38" textLength="33.8" lengthAdjust="spacingAndGlyphs">20771.0</text>
<text x="138.3" y="38" textLength="33.8" lengthAdjust="spacingAndGlyphs">20541.5</text>
<text x="174.6" y="38" textLength="33.8" lengthAdjust="spacingAndGlyphs">20660.0</text>
</g>
<polygon points="1335.6,26.6 1345.4,26.6 1340.5,32" fill="#000"/>
<g shape-rendering="crispEdges">
<rect x="5" y="686" width="2" height="4" fill="#00ff00"/>
<rect x="20" y="685" width="3" height="1" fill="#00ff00"/>
<rect x="36" y="685" width="3" height="1" fill="#00ff00"/>
<rect x="52" y="683" width="3" height="3" fill="#00ff00"/>
<rect x="68" y="684" width="3" height="2" fill="#00ff00"/>
<rect x="84" y="685" width="3" height="1" fill="#00ff00"/>
<rect x="100" y="685" width="3" height="1" fill="#00ff00"/>
<rect x="132" y="686" width="3" height="2" fill="#00ff00"/>
<rect x="148" y="686" width="3" height="3" fill="#00ff00"/>
<rect x="180" y="682" width="3" height="4" fill="#00ff00"/>
<rect x="196" y="676" width="3" height="10" fill="#00ff00"/>
<rect x="212" y="672" width="3" height="14" fill="#00ff00"/>
<rect x="228" y="668" width="3" height="18" fill="#00ff00"/>
<rect x="244" y="661" width="3" height="25" fill="#00ff00"/>
<rect x="260" y="659" width="3" height="27" fill="#00ff00"/>
<rect x="276" y="658" width="3" height="28" fill="#00ff00"/>
<rect x="292" y="660" width="3" height="26" fill="#00ff00"/>
<rect x="308" y="661" width="3" height="25" fill="#00ff00"/>
<rect x="324" y="660" width="3" height="26" fill="#00ff00"/>
<rect x="340" y="655" width="3" height="31" fill="#00ff00"/>
<rect x="356" y="653" width="3" height="33" fill="#00ff00"/>
<rect x="372" y="653" width="3" height="33" fill="#00ff00"/>
<rect x="388" y="649" width="3" height="37" fill="#00ff00"/>
<rect x="404" y="646" width="3" height="40" fill="#00ff00"/>
<rect x="420" y="645" width="3" height="41" fill="#00ff00"/>
<rect x="436" y="644" width="3" height="42" fill="#00ff00"/>
<rect x="452" y="645" width="3" height="41" fill="#00ff00"/>
<rect x="468" y="646" width="3" height="40" fill="#00ff00"/>
<rect x="484" y="653" width="3" height="33" fill="#00ff00"/>
<rect x="500" y="660" width="3" height="26" fill="#00ff00"/>
<rect x="516" y="668" width="3" height="18" fill="#00ff00"/>
<rect x="532" y="672" width="3" height="14" fill="#00ff00"/>
<rect x="548" y="673" width="3" height="13" fill="#00ff00"/>
<rect x="564" y="674" width="3" height="12" fill="#00ff00"/>
<rect x="580" y="676" width="3" height="10" fill="#00ff00"/>
<rect x="596" y="681" width="3" height="5" fill="#00ff00"/>
<rect x="612" y="683" width="3" height="3" fill="#00ff00"/>
<rect x="628" y="684" width="3" height="2" fill="#00ff00"/>
<rect x="644" y="685" width="3" height="1" fill="#00ff00"/>
<rect x="660" y="685" width="3" height="1" fill="#00ff00"/>
<rect x="676" y="682" width="3" height="4" fill="#00ff00"/>
<rect x="692" y="679" width="3" height="7" fill="#00ff00"/>
<rect x="708" y="679" width="3" height="7" fill="#00ff00"/>
<rect x="724" y="682" width="3" height="4" fill="#00ff00"/>
<rect x="740" y="682" width="3" height="4" fill="#00ff00"/>
<rect x="756" y="683" width="3" height="3" fill="#00ff00"/>
<rect x="772" y="679" width="3" height="7" fill="#00ff00"/>
<rect x="788" y="676" width="3" height="10" fill="#00ff00"/>
<rect x="804" y="667" width="3" height="19" fill="#00ff00"/>
<rect x="820" y="662" width="3" height="24" fill="#00ff00"/>
<rect x="836" y="660" width="3" height="26" fill="#00ff00"/>
<rect x="852" y="656" width="3" height="30" fill="#00ff00"/>
<rect x="868" y="656" width="3" height="30" fill="#00ff00"/>
<rect x="884" y="657" width="3" height="29" fill="#00ff00"/>
<rect x="900" y="658" width="3" height="28" fill="#00ff00"/>
<rect x="916" y="662" width="3" height="24" fill="#00ff00"/>
<rect x="932" y="663" width="3" height="23" fill="#00ff00"/>
<rect x="948" y="664" width="3" height="22" fill="#00ff00"/>
<rect x="964" y="665" width="3" height="21" fill="#00ff00"/>
<rect x="980" y="667" width="3" height="19" fill="#00ff00"/>
<rect x="996" y="671" width="3" height="15" fill="#00ff00"/>
<rect x="1012" y="674" width="3" height="12" fill="#00ff00"/>
<rect x="1028" y="677" width="3" height="9" fill="#00ff00"/>
<rect x="1044" y="677" width="3" height="9" fill="#00ff00"/>
<rect x="1060" y="678" width="3" height="8" fill="#00ff00"/>
<rect x="1076" y="678" width="3" height="8" fill="#00ff00"/>
<rect x="1092" y="684" width="3" height="2" fill="#00ff00"/>
<rect x="1108" y="686" width="3" height="3" fill="#00ff00"/>
<rect x="1124" y="686" width="3" height="8" fill="#00ff00"/>
<rect x="1140" y="686" width="3" height="13" fill="#00ff00"/>
<rect x="1156" y="686" width="3" height="15" fill="#00ff00"/>
<rect x="1172" y="686" width="3" height="18" fill="#00ff00"/>
<rect x="1188" y="686" width="3" height="20" fill="#00ff00"/>
<rect x="1204" y="686" width="3" height="23" fill="#00ff00"/>
<rect x="1220" y="686" width="3" height="26" fill="#00ff00"/>
<rect x="1236" y="686" width="3" height="31" fill="#00ff00"/>
<rect x="1252" y="686" width="3" height="29" fill="#00ff00"/>
<rect x="1268" y="686" width="3" height="27" fill="#00ff00"/>
<rect x="1284" y="686" width="3" height="28" fill="#00ff00"/>
<rect x="1300" y="686" width="3" height="27" fill="#00ff00"/>
</g>
<polyline points="5,700.75 21,697.50 37,694.50 53,691.50 69,689.50 85,688.25 101,687.25 117,686.25 133,685.75 149,685.25 165,685.00 181,684.75 197,684.25 213,683.50 229,681.75 245,678.50 261,675.25 277,672.25 293,669.50 309,666.50 325,664.50 341,662.50 357,660.25 373,658.25 389,656.50 405,655.25 421,654.25 437,652.25 453,650.25 469,649.25 485,649.00 501,649.25 517,651.25 533,653.25 549,656.25 565,660.25 581,663.25 597,667.25 613,671.25 629,675.50 645,677.25 661,679.25 677,680.50 693,681.00 709,682.00 725,682.25 741,682.25 757,682.25 773,681.50 789,680.50 805,678.25 821,676.25 837,674.25 853,672.25 869,669.50 885,666.25 901,663.25 917,661.25 933,660.25 949,660.00 965,660.00 981,661.25 997,663.25 1013,665.25 1029,667.25 1045,669.50 1061,671.25 1077,672.25 1093,675.25 1109,677.25 1125,680.25 1141,683.25 1157,686.25 1173,689.25 1189,692.25 1205,695.25 1221,699.25 1237,703.25 1253,706.25 1269,708.25 1285,709.25 1301,711.25" fill="none" stroke="#ff0000" stroke-width="2" stroke-linejoin="round" shape-rendering="crispEdges"/>
<g font-size="9.8" fill="#000">
<text x="9.0" y="652" textLength="66.5" lengthAdjust="spacingAndGlyphs">MACD(12,26,9)</text>
<text x="77.89999999999999" y="652" textLength="31.4" lengthAdjust="spacingAndGlyphs">-237.45</text>
<text x="111.6" y="652" textLength="31.9" lengthAdjust="spacingAndGlyphs">-222.98</text>
</g>
<g font-size="9.8">
<text x="1619.6" y="650" textLength="29" lengthAdjust="spacingAndGlyphs">402.32</text>
<text x="1619.6" y="690" textLength="19" lengthAdjust="spacingAndGlyphs">0.00</text>
<text x="1619.8" y="717" textLength="31.4" lengthAdjust="spacingAndGlyphs">-302.51</text>
</g>
<g shape-rendering="crispEdges">
<line x1="6" y1="741.5" x2="1616" y2="741.5" stroke="#000" stroke-width="1" stroke-dasharray="3 3"/>
<line x1="6" y1="766.5" x2="1616" y2="766.5" stroke="#000" stroke-width="1" stroke-dasharray="3 3"/>
<line x1="6" y1="797.5" x2="1616" y2="797.5" stroke="#000" stroke-width="1" stroke-dasharray="3 3"/>
</g>
<polyline points="5,764.25 21,763.25 37,765.75 53,765.00 69,767.75 85,767.75 101,766.75 117,767.75 133,768.75 149,768.75 165,763.75 181,762.75 197,757.25 213,757.00 229,756.50 245,752.75 261,757.75 277,758.00 293,763.00 309,760.75 325,758.25 341,755.00 357,756.25 373,758.00 389,754.00 405,752.75 421,753.25 437,754.25 453,755.25 469,755.75 485,766.75 501,770.25 517,772.00 533,769.25 549,765.00 565,765.25 581,766.00 597,771.75 613,769.25 629,767.25 645,766.75 661,766.50 677,760.75 693,760.50 709,765.00 725,768.75 741,766.00 757,765.75 773,760.00 789,759.75 805,751.75 821,754.25 837,758.75 853,756.00 869,760.50 885,760.50 901,761.00 917,763.75 933,764.00 949,761.75 965,761.50 981,765.25 997,767.75 1013,767.75 1029,767.75 1045,765.00 1061,765.00 1077,765.00 1093,773.50 1109,773.75 1125,777.50 1141,777.75 1157,774.75 1173,776.75 1189,777.00 1205,778.75 1221,781.25 1237,783.00 1253,771.75 1269,772.00 1285,774.75 1301,774.75" fill="none" stroke="#1e90ff" stroke-width="2" stroke-linejoin="round" shape-rendering="crispEdges"/>
<g font-size="9.8" fill="#000">
<text x="9.0" y="735" textLength="32.3" lengthAdjust="spacingAndGlyphs">RSI(15)</text>
<text x="43.6" y="735" textLength="33.8" lengthAdjust="spacingAndGlyphs">41.6090</text>
</g>
<g font-size="9.8">
<text x="1619.5" y="733" textLength="14.7" lengthAdjust="spacingAndGlyphs">100</text>
<text x="1619.5" y="745" textLength="9.5" lengthAdjust="spacingAndGlyphs">80</text>
<text x="1619.5" y="770" textLength="9.5" lengthAdjust="spacingAndGlyphs">50</text>
<text x="1619.5" y="801" textLength="9.5" lengthAdjust="spacingAndGlyphs">15</text>
<text x="1619.5" y="807" textLength="5" lengthAdjust="spacingAndGlyphs">0</text>
</g>
<g shape-rendering="crispEdges">
<rect x="5" y="811" width="1" height="3" fill="#000"/>
<rect x="69" y="811" width="1" height="3" fill="#000"/>
<rect x="133" y="811" width="1" height="3" fill="#000"/>
<rect x="197" y="811" width="1" height="3" fill="#000"/>
<rect x="261" y="811" width="1" height="3" fill="#000"/>
<rect x="325" y="811" width="1" height="3" fill="#000"/>
<rect x="389" y="811" width="1" height="3" fill="#000"/>
<rect x="453" y="811" width="1" height="3" fill="#000"/>
<rect x="517" y="811" width="1" height="3" fill="#000"/>
<rect x="581" y="811" width="1" height="3" fill="#000"/>
<rect x="645" y="811" width="1" height="3" fill="#000"/>
<rect x="709" y="811" width="1" height="3" fill="#000"/>
<rect x="773" y="811" width="1" height="3" fill="#000"/>
<rect x="837" y="811" width="1" height="3" fill="#000"/>
<rect x="901" y="811" width="1" height="3" fill="#000"/>
<rect x="965" y="811" width="1" height="3" fill="#000"/>
<rect x="1029" y="811" width="1" height="3" fill="#000"/>
<rect x="1093" y="811" width="1" height="3" fill="#000"/>
<rect x="1157" y="811" width="1" height="3" fill="#000"/>
<rect x="1221" y="811" width="1" height="3" fill="#000"/>
<rect x="1285" y="811" width="1" height="3" fill="#000"/>
</g>
<g font-size="9.8">
<text x="3.7" y="823" textLength="55.6" lengthAdjust="spacingAndGlyphs">20 May 2022</text>
<text x="67.7" y="823" textLength="58.6" lengthAdjust="spacingAndGlyphs">24 May 01:15</text>
<text x="131.7" y="823" textLength="58.6" lengthAdjust="spacingAndGlyphs">26 May 01:15</text>
<text x="195.7" y="823" textLength="58.6" lengthAdjust="spacingAndGlyphs">30 May 01:15</text>
<text x="259.7" y="823" textLength="48.1" lengthAdjust="spacingAndGlyphs">1 Jun 01:15</text>
<text x="323.7" y="823" textLength="48.1" lengthAdjust="spacingAndGlyphs">6 Jun 01:15</text>
<text x="387.7" y="823" textLength="48.1" lengthAdjust="spacingAndGlyphs">8 Jun 01:15</text>
<text x="451.7" y="823" textLength="53.1" lengthAdjust="spacingAndGlyphs">10 Jun 01:15</text>
<text x="515.7" y="823" textLength="53.1" lengthAdjust="spacingAndGlyphs">14 Jun 01:15</text>
<text x="579.7" y="823" textLength="53.1" lengthAdjust="spacingAndGlyphs">16 Jun 01:15</text>
<text x="643.7" y="823" textLength="53.1" lengthAdjust="spacingAndGlyphs">20 Jun 01:15</text>
<text x="707.7" y="823" textLength="53.1" lengthAdjust="spacingAndGlyphs">22 Jun 01:15</text>
<text x="771.7" y="823" textLength="53.1" lengthAdjust="spacingAndGlyphs">24 Jun 01:15</text>
<text x="835.7" y="823" textLength="53.1" lengthAdjust="spacingAndGlyphs">28 Jun 01:15</text>
<text x="899.7" y="823" textLength="53.1" lengthAdjust="spacingAndGlyphs">30 Jun 01:15</text>
<text x="963.7" y="823" textLength="45.0" lengthAdjust="spacingAndGlyphs">5 Jul 01:15</text>
<text x="1027.7" y="823" textLength="45.0" lengthAdjust="spacingAndGlyphs">7 Jul 01:15</text>
<text x="1091.7" y="823" textLength="50.0" lengthAdjust="spacingAndGlyphs">11 Jul 01:15</text>
<text x="1155.7" y="823" textLength="50.0" lengthAdjust="spacingAndGlyphs">13 Jul 01:15</text>
<text x="1219.7" y="823" textLength="50.0" lengthAdjust="spacingAndGlyphs">15 Jul 01:15</text>
<text x="1283.7" y="823" textLength="50.0" lengthAdjust="spacingAndGlyphs">19 Jul 01:15</text>
</g>
</svg></body></html>
